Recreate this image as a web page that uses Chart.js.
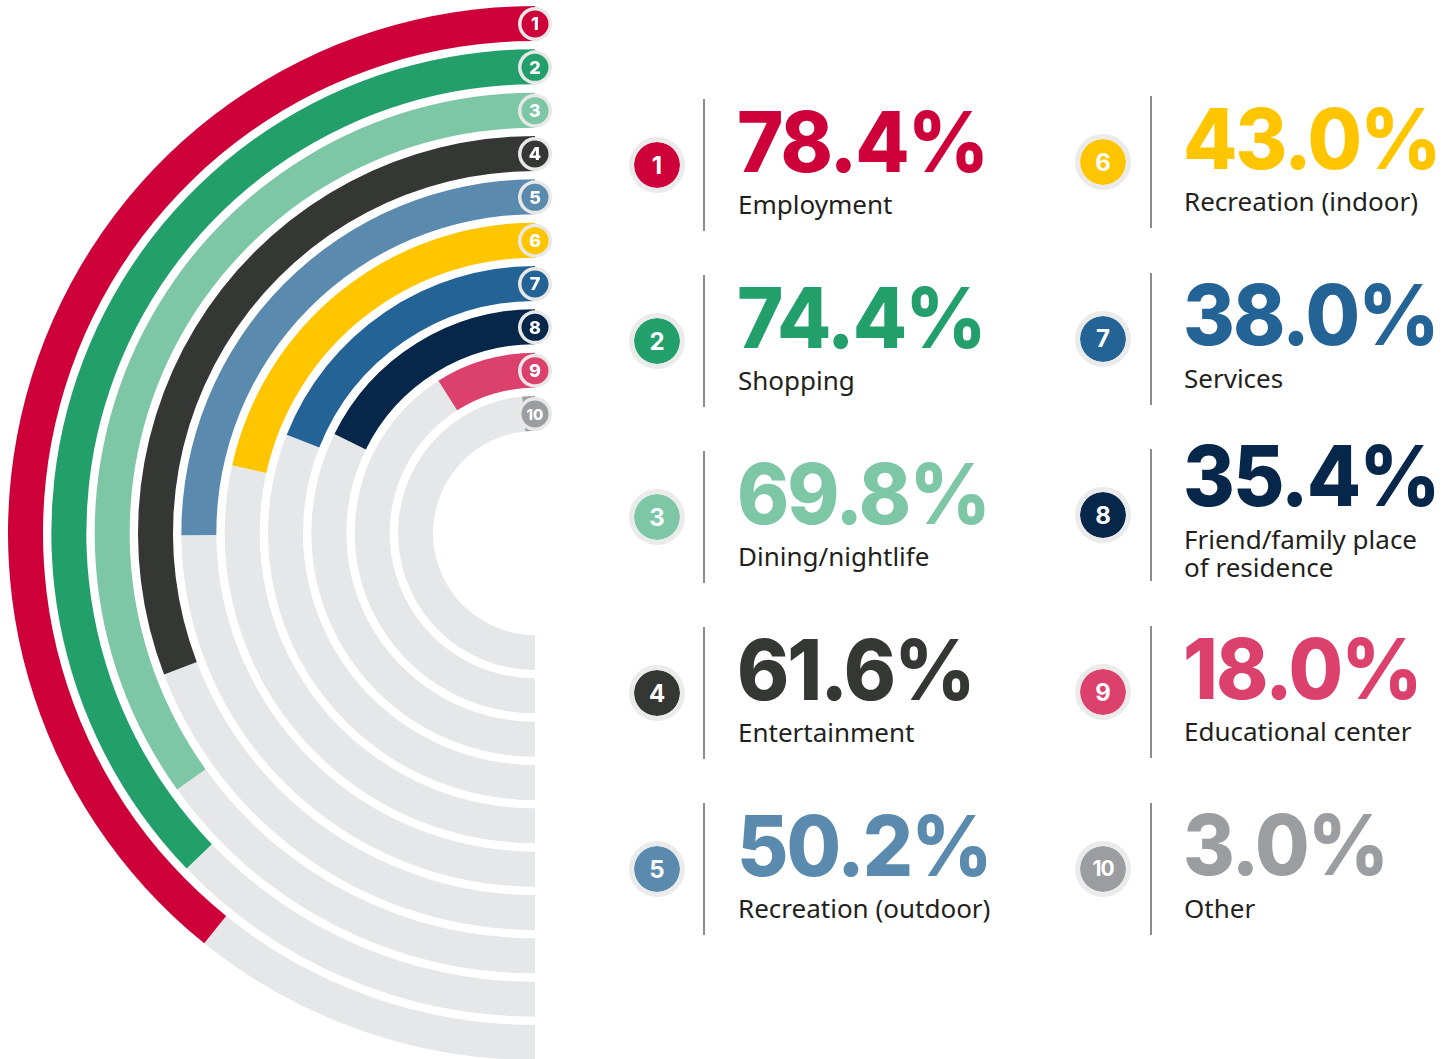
<!DOCTYPE html>
<html><head><meta charset="utf-8">
<script src="https://cdn.jsdelivr.net/npm/chart.js@4.4.1/dist/chart.umd.min.js"></script>
<style>
html,body{margin:0;padding:0;background:#fff;overflow:hidden;width:1455px;height:1059px;}
#wrap{position:absolute;left:0;top:0;width:560px;height:1066px;}
.badge{position:absolute;width:56px;height:56px;border-radius:50%;box-sizing:border-box;border:5px solid #ebebeb;color:#fff;font-family:Inter;font-weight:700;font-size:24px;display:flex;align-items:center;justify-content:center;}
.sep{position:absolute;width:2px;height:132px;background:#8c8c8c;}
.num{position:absolute;font-family:Inter;font-weight:800;font-size:84px;line-height:84px;white-space:nowrap;letter-spacing:-2px;transform:scaleX(0.94);transform-origin:0 0;}
.lab{position:absolute;font-family:'Noto Sans';font-size:26px;line-height:28px;color:#231f20;white-space:pre;}
</style></head>
<body>
<div id="wrap"><canvas id="c" width="560" height="1066"></canvas></div>
<div id="legend"></div>
<script>
const categories = ['Employment','Shopping','Dining/nightlife','Entertainment','Recreation (outdoor)','Recreation (indoor)','Services','Friend/family place\nof residence','Educational center','Other'];
const values = [78.4, 74.4, 69.8, 61.6, 50.2, 43.0, 38.0, 35.4, 18.0, 3.0];
const rankLabels = ['1','2','3','4','5','6','7','8','9','10'];
const colors = ['#CE0039','#239F6C','#7DC6A6','#353735','#5B8AAF','#FFC600','#236395','#06274A','#DC406C','#9C9DA0'];
const TRACK = '#E6E7E9';
const RING_W = 35, GAP_W = 75/9;

const datasets = [];
values.forEach((v, i) => {
  if (i > 0) datasets.push({data:[100], backgroundColor:['rgba(0,0,0,0)'], weight:GAP_W, borderWidth:0});
  datasets.push({data:[100 - v, v], backgroundColor:[TRACK, colors[i]], weight:RING_W, borderWidth:0, ringIndex:i});
});

const badgePlugin = {
  id:'badges',
  afterDraw(chart){
    const ctx = chart.ctx;
    chart.data.datasets.forEach((ds, di) => {
      if (ds.ringIndex === undefined) return;
      const arc = chart.getDatasetMeta(di).data[1];
      const r = (arc.innerRadius + arc.outerRadius) / 2;
      const x = arc.x + r * Math.cos(arc.endAngle);
      const y = arc.y + r * Math.sin(arc.endAngle) + 0.5;
      ctx.save();
      ctx.beginPath(); ctx.arc(x, y, 17, 0, Math.PI*2); ctx.fillStyle = '#E8E8E8'; ctx.fill();
      ctx.beginPath(); ctx.arc(x, y, 13.5, 0, Math.PI*2); ctx.fillStyle = colors[ds.ringIndex]; ctx.fill();
      ctx.fillStyle = '#fff';
      ctx.font = '800 ' + (ds.ringIndex === 9 ? 15 : 18) + 'px Inter';
      ctx.textAlign = 'center'; ctx.textBaseline = 'middle';
      ctx.fillText(rankLabels[ds.ringIndex], x, y + 1);
      ctx.restore();
    });
  }
};

new Chart(document.getElementById('c'), {
  type:'doughnut',
  data:{labels:['rest','value'], datasets},
  options:{
    responsive:false, animation:false, events:[],
    rotation:180, circumference:180, radius:527, cutout:(102/527*100)+'%',
    layout:{padding:{left:0, top:0, bottom:0, right:17}},
    plugins:{legend:{display:false}, tooltip:{enabled:false}}
  },
  plugins:[badgePlugin]
});

// legend
const legend = document.getElementById('legend');
const colX = [657, 1103], colY0 = [165, 162], rowPitch = [176, 176.7];
values.forEach((v, i) => {
  const col = i < 5 ? 0 : 1, row = i % 5;
  const bx = colX[col], cy = colY0[col] + row * rowPitch[col];
  const two = categories[i].includes('\n');
  const b = document.createElement('div');
  b.className = 'badge'; b.style.left = (bx - 28) + 'px'; b.style.top = (cy - 28) + 'px';
  b.style.background = colors[i]; b.style.backgroundClip = 'padding-box'; b.textContent = rankLabels[i];
  if (i === 9) { b.style.fontSize = '21px'; b.style.letterSpacing = '-1px'; }
  const s = document.createElement('div');
  s.className = 'sep'; s.style.left = (bx + 46 + col) + 'px'; s.style.top = (cy - 66) + 'px';
  const n = document.createElement('div');
  n.className = 'num'; n.style.left = (bx + 80) + 'px'; n.style.top = (two ? cy - 81.6 : cy - 65.5) + 'px';
  n.style.color = colors[i]; n.textContent = values[i].toFixed(1) + '%';
  const l = document.createElement('div');
  l.className = 'lab'; l.style.left = (bx + 81) + 'px'; l.style.top = (two ? cy + 10 : cy + 25) + 'px';
  l.textContent = categories[i];
  legend.append(b, s, n, l);
});
</script>
</body></html>
